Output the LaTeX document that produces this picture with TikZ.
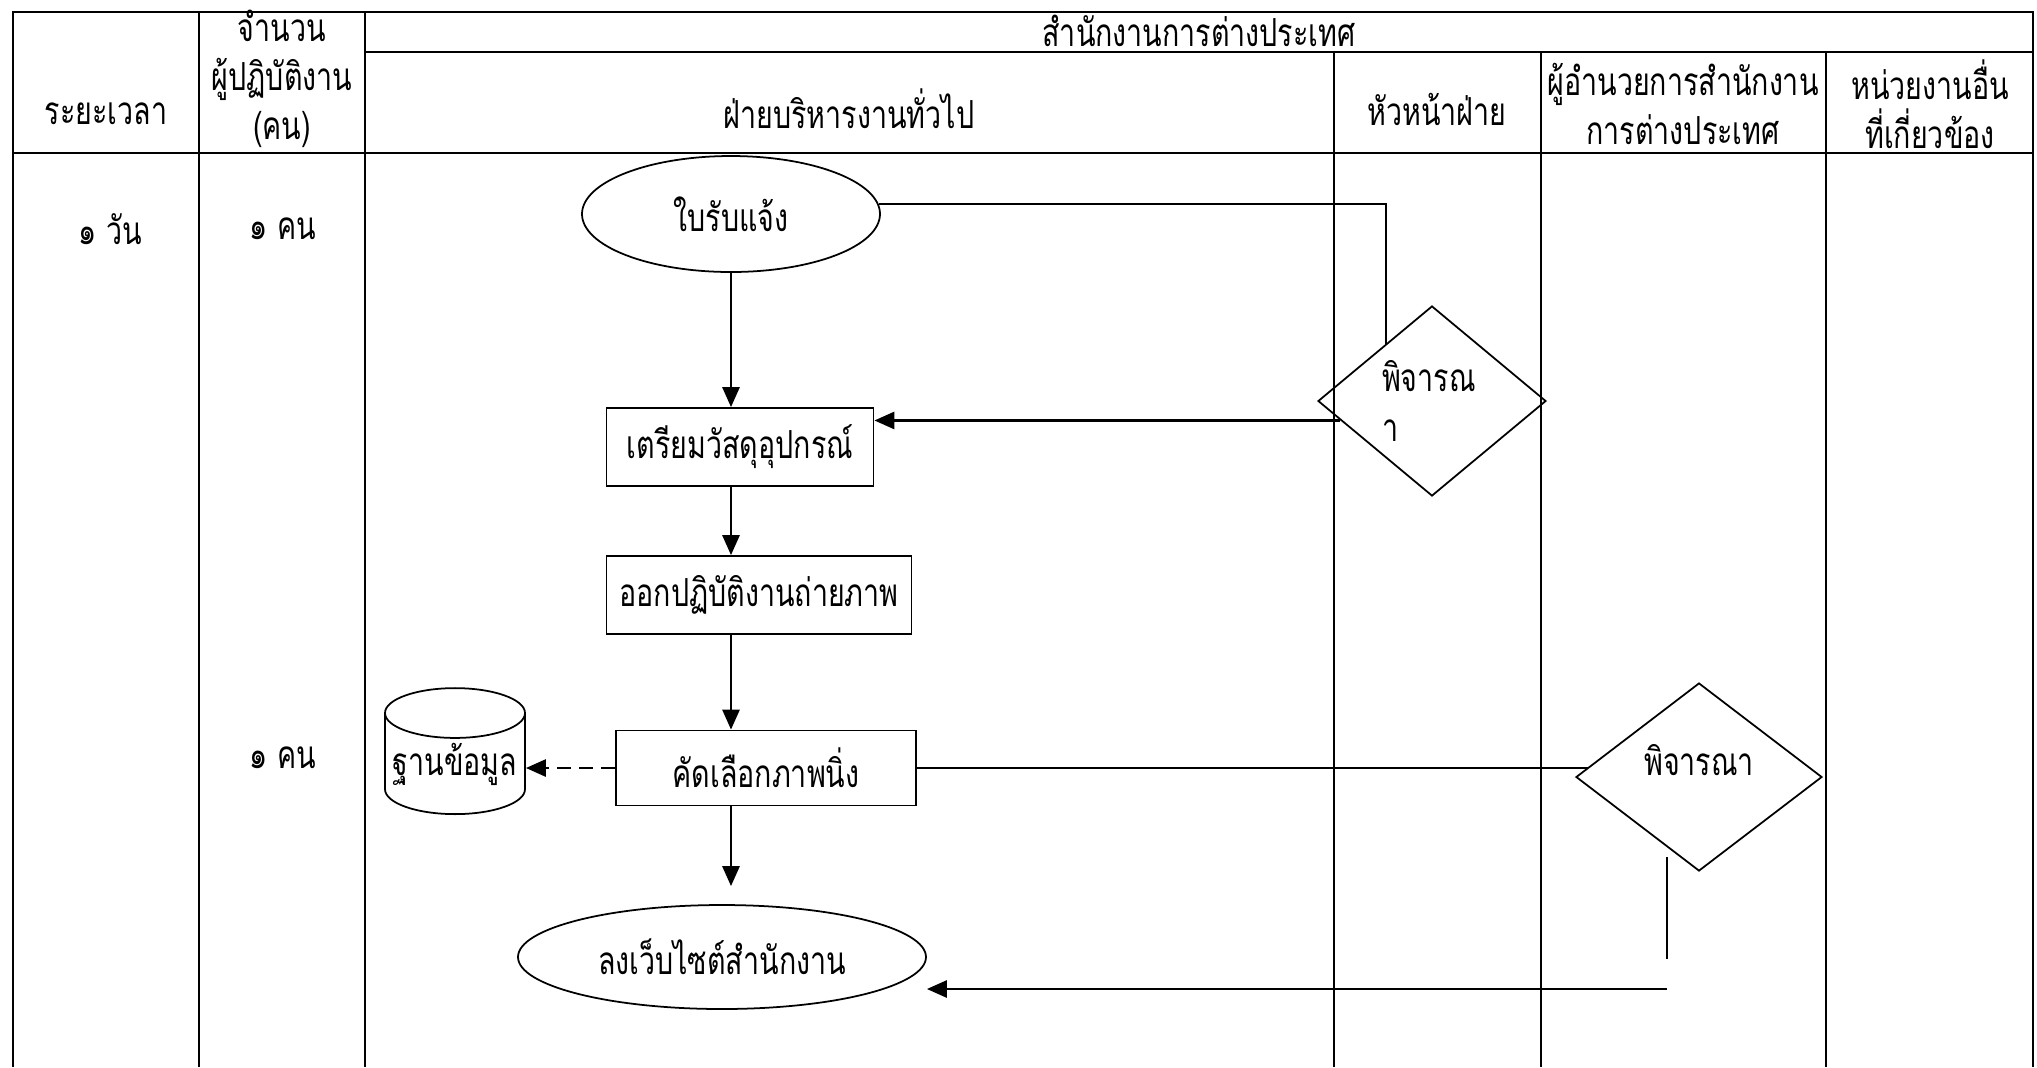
\documentclass[tikz,border=0pt]{standalone}
\usepackage{fontspec}
\setmainfont{Loma}[Script=Thai, FakeStretch=0.74]
\usetikzlibrary{shapes.geometric,arrows.meta}

\tikzset{
  rule/.style={line width=0.8pt},
  lane/.style={line width=0.6pt},
  stepbox/.style={draw, line width=0.5pt, inner sep=0pt},
  terminal/.style={ellipse, draw, line width=0.5pt, inner sep=0pt},
  decide/.style={diamond, draw, line width=0.5pt, inner sep=0pt},
  store/.style={cylinder, shape border rotate=90, draw, line width=0.5pt, aspect=0.4, inner sep=0pt},
  arr/.style={-{Triangle[length=0.2cm,width=0.17cm]}, line width=0.8pt},
  link/.style={line width=0.5pt}
}

\begin{document}
\begin{tikzpicture}[font=\fontsize{11}{14}\selectfont]
   \useasboundingbox (0,0) rectangle (20.37,-10.67);

   % table frame
   \draw[rule] (0.13,-10.67) -- (0.13,-0.12) -- (20.33,-0.12) -- (20.33,-10.67);
   \draw[rule] (3.65,-0.52) -- (20.33,-0.52);
   \draw[rule] (0.13,-1.53) -- (20.33,-1.53);
   \draw[lane] (1.99,-0.12) -- (1.99,-10.67);
   \draw[lane] (3.65,-0.12) -- (3.65,-10.67);
   \draw[lane] (13.34,-0.52) -- (13.34,-10.67);
   \draw[lane] (15.41,-0.52) -- (15.41,-10.67);
   \draw[lane] (18.26,-0.52) -- (18.26,-10.67);

   % headings
   \node (hTime) at (1.06,-1.14) {ระยะเวลา};
   \node[align=center] (hStaff) at (2.82,-0.79) {จำนวน\\ผู้ปฏิบัติงาน\\(คน)};
   \node (hOffice) at (11.99,-0.31) {สำนักงานการต่างประเทศ};
   \node (hAdmin) at (8.49,-1.09) {ฝ่ายบริหารงานทั่วไป};
   \node (hHead) at (14.37,-1.09) {หัวหน้าฝ่าย};
   \node[align=center] (hDir) at (16.83,-1.04) {ผู้อำนวยการสำนักงาน\\การต่างประเทศ};
   \node[align=center] (hOther) at (19.30,-1.04) {หน่วยงานอื่น\\ที่เกี่ยวข้อง};

   \node (tDay) at (1.10,-2.29) {๑ วัน};
   \node (nOne) at (2.83,-2.29) {๑ คน};
   \node (nTwo) at (2.83,-7.58) {๑ คน};

   % flow
   \node[terminal, minimum width=2.98cm, minimum height=1.16cm] (recv) at (7.31,-2.14) {ใบรับแจ้ง};
   \node[stepbox, minimum width=2.67cm, minimum height=0.78cm] (prep) at (7.40,-4.47) {เตรียมวัสดุอุปกรณ์};
   \node[stepbox, minimum width=3.05cm, minimum height=0.78cm] (shoot) at (7.59,-5.95) {ออกปฏิบัติงานถ่ายภาพ};
   \node[stepbox, minimum width=3.00cm, minimum height=0.75cm] (pick) at (7.66,-7.68) {คัดเลือกภาพนิ่ง};
   \node[store, minimum width=1.40cm, minimum height=1.26cm] (db) at (4.55,-7.64) {ฐานข้อมูล};
   \node[terminal, minimum width=4.08cm, minimum height=1.04cm] (post) at (7.22,-9.57) {ลงเว็บไซต์สำนักงาน};
   \node[decide, minimum width=2.28cm, minimum height=1.90cm, align=left, text width=1.0cm] (cons1) at (14.32,-4.01) {พิจารณ\\า};
   \node[decide, minimum width=2.46cm, minimum height=1.88cm, text depth=0.35cm] (cons2) at (16.99,-7.77) {พิจารณา};

   \coordinate (r1) at (16.67,-8.57);
   \coordinate (r2) at (16.67,-9.59);
   \coordinate (r3) at (16.67,-9.89);

   \draw[link] (recv.4) -| (cons1.129);
   \draw[arr] (cons1.192) -- (cons1.192 -| prep.east);
   \draw[arr] (recv.south) -- (recv.south |- prep.north);
   \draw[arr] (prep.south -| recv) -- (shoot.north -| recv);
   \draw[arr] (shoot.south -| recv) -- (pick.north -| recv);
   \draw[arr, dash pattern=on 0.14cm off 0.08cm] (pick.west) -- (pick.west -| db.east);
   \draw[arr, shorten >=0.18cm] (pick.south -| recv) -- (post.north -| recv);
   \draw[link] (pick.east) -- (pick.east -| cons2.175);
   \draw[link] (r1) -- (r2);
   \draw[arr] (r3) -- (r3 -| post.east);
\end{tikzpicture}
\end{document}
